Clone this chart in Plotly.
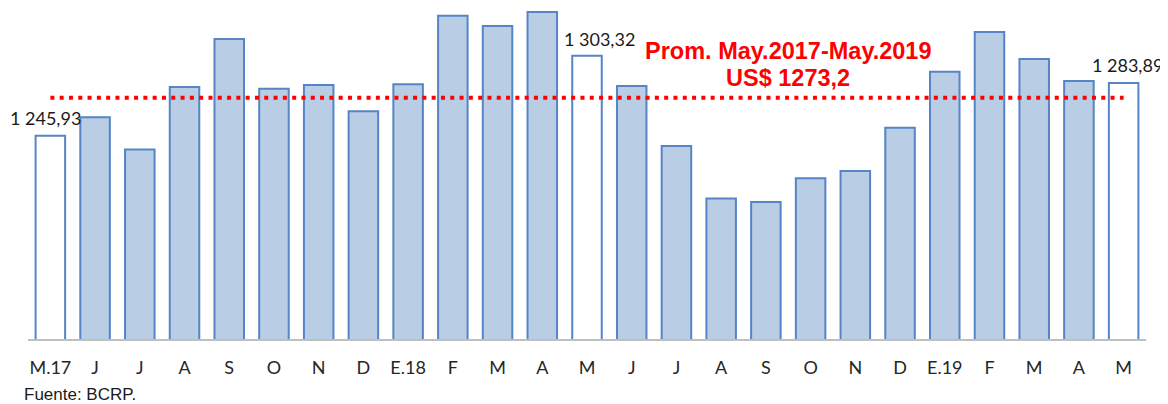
import plotly.graph_objects as go

# ---- data ----
month_labels = ["M.17", "J", "J", "A", "S", "O", "N", "D", "E.18", "F", "M", "A", "M",
                "J", "J", "A", "S", "O", "N", "D", "E.19", "F", "M", "A", "M"]
gold_price = [1245.93, 1259.3, 1236.0, 1281.0, 1315.4, 1279.6, 1282.4, 1263.6, 1282.9,
              1332.1, 1324.7, 1334.8, 1303.32, 1281.7, 1238.5, 1200.9, 1198.3, 1215.5,
              1220.7, 1251.6, 1291.8, 1320.4, 1301.1, 1285.3, 1283.89]
highlight_idx = [0, 12, 24]          # May bars (white)
label_text = ["1 245,93", "1 303,32", "1 283,89"]
average_value = 1273.2
average_title = ["Prom. May.2017-May.2019", "US$ 1273,2"]
source_note = "Fuente: BCRP."

x_pos = list(range(len(month_labels)))
fill_colors = ["#FFFFFF" if i in highlight_idx else "#B9CDE5" for i in x_pos]

fig = go.Figure()
fig.add_trace(go.Bar(
    x=x_pos, y=gold_price,
    marker=dict(color=fill_colors, line=dict(color="#5585C5", width=2)),
    hoverinfo="y", showlegend=False,
))
fig.add_trace(go.Scatter(
    x=[x_pos[0], x_pos[-1]], y=[average_value, average_value],
    mode="lines", line=dict(color="#FF0000", width=4, dash="4px,5.3px"),
    showlegend=False, hoverinfo="skip",
))

shifts = [(-5, 18), (12, 17), (4, 18)]
for (i, txt), (dx, dy) in zip(zip(highlight_idx, label_text), shifts):
    fig.add_annotation(x=i, y=gold_price[i], text=txt, showarrow=False,
                       xshift=dx, yshift=dy, yanchor="middle",
                       font=dict(family="Lato", size=18, color="#1a1a1a"))

for line, yv in zip(average_title, [1306.8, 1287.4]):
    fig.add_annotation(x=16.5, y=yv, text="<b>" + line + "</b>", showarrow=False,
                       yanchor="middle",
                       font=dict(family="Liberation Sans", size=23.5, color="#FF0000"))

fig.add_annotation(xref="paper", yref="paper", x=-0.0058, y=0, xanchor="left",
                   yanchor="middle", yshift=-55, text=source_note, showarrow=False,
                   font=dict(family="Liberation Sans", size=17, color="#1a1a1a"))

fig.update_layout(
    width=1160, height=396,
    margin=dict(l=20.15, r=22.35, t=0, b=64.7, pad=0),
    plot_bgcolor="white", paper_bgcolor="white",
    bargap=0.34,
    xaxis=dict(range=[-0.5, 24.5], tickmode="array", tickvals=x_pos, ticktext=month_labels,
               showgrid=False, zeroline=False, showline=True, linecolor="#BFBFBF", linewidth=2,
               ticks="", ticklabelstandoff=11,
               tickfont=dict(family="Lato", size=18, color="#262626")),
    yaxis=dict(range=[1100, 1337.66], visible=False, showgrid=False),
)

fig.write_html("out.html")
